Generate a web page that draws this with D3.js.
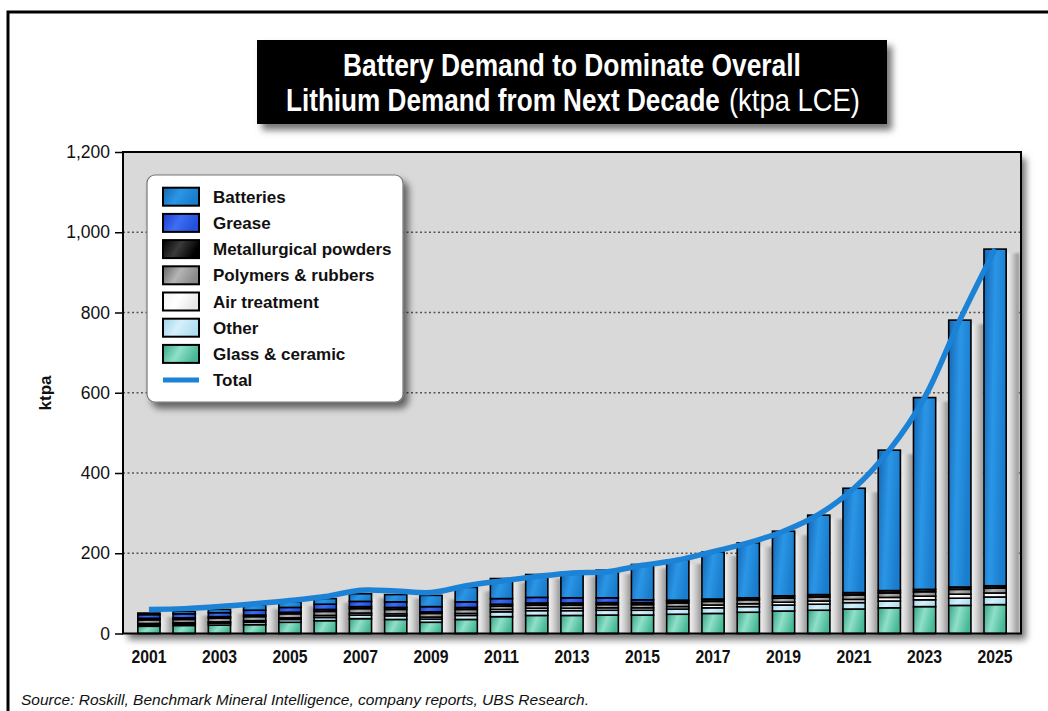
<!DOCTYPE html>
<html>
<head>
<meta charset="utf-8">
<script src="https://cdn.jsdelivr.net/npm/d3@7"></script>
<style>
  body { margin: 0; background: #fff; }
  svg { display: block; font-family: "Liberation Sans", Arial, sans-serif; }
  .tick line { stroke: #000; stroke-width: 1.5px; }
  .domain { display: none; }
  .ylab text { font-family: "Liberation Sans", Arial, sans-serif; font-size: 17.5px; fill: #111; }
  .xlab { font-family: "Liberation Sans", Arial, sans-serif; font-size: 19px; font-weight: bold; fill: #111; }
  .legend text { font-size: 17px; font-weight: bold; fill: #111; }
</style>
</head>
<body>
<div id="chart"></div>
<script>
// categories
var years = [2001, 2002, 2003, 2004, 2005, 2006, 2007, 2008, 2009, 2010, 2011, 2012, 2013,
             2014, 2015, 2016, 2017, 2018, 2019, 2020, 2021, 2022, 2023, 2024, 2025];

// stacked series, ktpa LCE (bottom to top)
var glass      = [18, 20, 21, 22, 28, 32, 37, 35, 28, 35, 42, 45, 45, 46, 46, 48, 50, 53, 56, 58, 61, 64, 67, 70, 72];
var other      = [4, 4, 5, 6, 7, 8, 9, 9, 8, 10, 12, 12, 12, 12, 12, 13, 14, 14, 15, 15, 16, 17, 17, 18, 19];
var air        = [3, 3, 3, 4, 4, 5, 5, 5, 5, 5, 6, 6, 6, 6, 6, 6, 7, 7, 7, 8, 8, 9, 9, 10, 10];
var polymers   = [9, 8, 9, 10, 10, 10, 11, 11, 9, 10, 8, 8, 8, 8, 8, 9, 9, 10, 10, 10, 11, 11, 11, 12, 12];
var metal      = [4, 4, 4, 4, 4, 5, 5, 5, 4, 5, 5, 5, 5, 5, 5, 5, 5, 5, 6, 6, 6, 6, 6, 6, 6];
var grease     = [9, 10, 10, 12, 12, 13, 13, 14, 13, 14, 14, 14, 13, 12, 7, 2, 1, 0, 0, 0, 0, 0, 0, 0, 0];
var batteries  = [4, 6, 8, 13, 14, 14, 19, 18, 28, 36, 50, 57, 63, 69, 88, 100, 117, 137, 161, 198, 260, 350, 478, 665, 839];

// total demand line
var total = [60, 62, 67, 74, 82, 92, 108, 106, 102, 119, 131, 142, 151, 154, 170, 183, 204, 226, 255, 297, 362, 457, 588, 781, 958];

var yTicks = [0, 200, 400, 600, 800, 1000, 1200];
var xLabels = [2001, 2003, 2005, 2007, 2009, 2011, 2013, 2015, 2017, 2019, 2021, 2023, 2025];

var seriesNames = ["Glass & ceramic", "Other", "Air treatment", "Polymers & rubbers",
                   "Metallurgical powders", "Grease", "Batteries"];
var seriesValues = [glass, other, air, polymers, metal, grease, batteries];
var seriesIds = ["glass", "other", "air", "poly", "metal", "grease", "batt"];

var gradStops = {
  batt:   ["#1466b4", "#2b96e6", "#1a7ccc"],
  grease: ["#1838c8", "#3d6ef2", "#2250dc"],
  metal:  ["#000000", "#3a3a3a", "#000000"],
  poly:   ["#646464", "#b4b4b4", "#8a8a8a"],
  air:    ["#f2f2f2", "#ffffff", "#e6e6e6"],
  other:  ["#9fd3ea", "#d6f0fb", "#b2def2"],
  glass:  ["#35a386", "#8fe0c8", "#49b896"]
};

var W = 1048, H = 711;
var plotL = 123, plotR = 1021, plotT = 152, plotB = 633.5;

// table for the stack
var table = years.map(function(yr, i) {
  var row = { year: yr };
  seriesIds.forEach(function(id, k) { row[id] = seriesValues[k][i]; });
  return row;
});

var svg = d3.select("#chart").append("svg").attr("width", W).attr("height", H);
var defs = svg.append("defs");

// squeeze a text horizontally so it spans the given width (title font is condensed)
function fitText(sel, x0, y0, width) {
  var natural = sel.node().getComputedTextLength();
  sel.attr("transform", "translate(" + x0 + "," + y0 + ") scale(" + (width / natural) + ",1)");
}

// soft drop shadow
var f = defs.append("filter").attr("id", "shadow").attr("x", "-10%").attr("y", "-10%")
  .attr("width", "130%").attr("height", "130%");
f.append("feDropShadow").attr("dx", 5).attr("dy", 6).attr("stdDeviation", 3.5)
  .attr("flood-color", "#000").attr("flood-opacity", 0.55);

var blur = defs.append("filter").attr("id", "blur");
blur.append("feGaussianBlur").attr("stdDeviation", 1.2);

Object.keys(gradStops).forEach(function(id) {
  var g = defs.append("linearGradient").attr("id", "g-" + id)
    .attr("x1", 0).attr("y1", 0).attr("x2", 1).attr("y2", 0.3);
  gradStops[id].forEach(function(c, i) {
    g.append("stop").attr("offset", (i / 2 * 100) + "%").attr("stop-color", c);
  });
});

var sg = defs.append("linearGradient").attr("id", "g-gap").attr("x1", 0).attr("x2", 1);
sg.append("stop").attr("offset", "0%").attr("stop-color", "#f6f6f6");
sg.append("stop").attr("offset", "45%").attr("stop-color", "#d2d2d2");
sg.append("stop").attr("offset", "100%").attr("stop-color", "#8e8e8e");

// outer frame
svg.append("path").attr("d", "M8," + H + " V12 H" + W)
  .attr("fill", "none").attr("stroke", "#000").attr("stroke-width", 3);

// title box
svg.append("rect").attr("x", 257).attr("y", 40).attr("width", 630).attr("height", 84)
  .attr("fill", "#000").attr("filter", "url(#shadow)");
var t1 = svg.append("text").attr("fill", "#fff").attr("font-size", 31).attr("font-weight", "bold")
  .text("Battery Demand to Dominate Overall");
fitText(t1, 343, 76, 458);
var t2 = svg.append("text").attr("fill", "#fff").attr("font-size", 31).attr("font-weight", "bold")
  .text("Lithium Demand from Next Decade");
fitText(t2, 286, 111, 434);
var t3 = svg.append("text").attr("fill", "#fff").attr("font-size", 31)
  .text("(ktpa LCE)");
fitText(t3, 729, 111, 131);

// scales
var x = d3.scaleBand().domain(years).range([plotL, plotR]).paddingInner(0.37).paddingOuter(0.42);
var y = d3.scaleLinear().domain([0, 1200]).range([plotB, plotT]);

// plot area
svg.append("rect").attr("x", plotL).attr("y", plotT).attr("width", plotR - plotL).attr("height", plotB - plotT)
  .attr("fill", "#d9d9d9").attr("filter", "url(#shadow)");

// gridlines
svg.append("g").selectAll("line").data(yTicks.slice(1, -1)).join("line")
  .attr("x1", plotL).attr("x2", plotR)
  .attr("y1", function(d) { return y(d); }).attr("y2", function(d) { return y(d); })
  .attr("stroke", "#555").attr("stroke-width", 1.3).attr("stroke-dasharray", "2,2.5");

// shading between bars
var stacked = d3.stack().keys(seriesIds)(table);
var gap = x.step() - x.bandwidth();
svg.append("g").selectAll("rect").data(table).join("rect")
  .attr("x", function(d) { return x(d.year) + x.bandwidth(); })
  .attr("y", function(d, i) { return y(stacked[6][i][1]) + 4; })
  .attr("width", gap)
  .attr("height", function(d, i) { return plotB - y(stacked[6][i][1]) - 4; })
  .attr("fill", "url(#g-gap)").attr("filter", "url(#blur)");

// stacked bars
svg.append("g").selectAll("g").data(stacked).join("g")
  .attr("fill", function(d) { return "url(#g-" + d.key + ")"; })
  .selectAll("rect").data(function(d) { return d.filter(function(s) { return s[1] - s[0] > 0; }); }).join("rect")
  .attr("x", function(d) { return x(d.data.year); })
  .attr("y", function(d) { return y(d[1]); })
  .attr("width", x.bandwidth())
  .attr("height", function(d) { return y(d[0]) - y(d[1]); })
  .attr("stroke", "#000").attr("stroke-width", 1.6);

// total line
var line = d3.line()
  .x(function(d, i) { return x(years[i]) + x.bandwidth() / 2; })
  .y(function(d) { return y(d); })
  .curve(d3.curveCatmullRom.alpha(0.5));
svg.append("path").datum(total).attr("d", line)
  .attr("fill", "none").attr("stroke", "#1b82d6").attr("stroke-width", 5.5)
  .attr("stroke-linejoin", "round");

// plot border
svg.append("rect").attr("x", plotL).attr("y", plotT).attr("width", plotR - plotL).attr("height", plotB - plotT)
  .attr("fill", "none").attr("stroke", "#000").attr("stroke-width", 2);

// y axis
svg.append("g").attr("class", "ylab").attr("transform", "translate(" + plotL + ",0)")
  .call(d3.axisLeft(y).tickValues(yTicks).tickSize(8).tickPadding(5).tickFormat(d3.format(",")));

svg.append("text").attr("transform", "translate(51,393) rotate(-90)")
  .attr("text-anchor", "middle").attr("font-size", 17).attr("font-weight", "bold")
  .attr("fill", "#111").text("ktpa");

// x labels
svg.append("g").selectAll("text").data(xLabels).join("text").attr("class", "xlab")
  .attr("x", function(d) { return x(d) + x.bandwidth() / 2; })
  .attr("y", 663).attr("text-anchor", "middle")
  .attr("textLength", 35).attr("lengthAdjust", "spacingAndGlyphs")
  .text(function(d) { return d; });

// legend
var lg = svg.append("g").attr("class", "legend");
lg.append("rect").attr("x", 147).attr("y", 175).attr("width", 256).attr("height", 227).attr("rx", 8)
  .attr("fill", "#fff").attr("stroke", "#777").attr("stroke-width", 1.2).attr("filter", "url(#shadow)");
var legendItems = seriesIds.slice().reverse().map(function(id, i) {
  return { id: id, name: seriesNames[seriesIds.length - 1 - i] };
});
legendItems.push({ id: "total", name: "Total" });
var item = lg.selectAll("g.item").data(legendItems).join("g").attr("class", "item")
  .attr("transform", function(d, i) { return "translate(163," + (196.7 + i * 26.2) + ")"; });
item.filter(function(d) { return d.id !== "total"; }).append("rect")
  .attr("x", 0).attr("y", -9).attr("width", 36).attr("height", 18)
  .attr("fill", function(d) { return "url(#g-" + d.id + ")"; })
  .attr("stroke", "#000").attr("stroke-width", 2);
item.filter(function(d) { return d.id === "total"; }).append("line")
  .attr("x1", 0).attr("x2", 36).attr("y1", 0).attr("y2", 0)
  .attr("stroke", "#1b82d6").attr("stroke-width", 5);
item.append("text").attr("x", 50).attr("dy", "0.36em").text(function(d) { return d.name; });

// source
svg.append("text").attr("x", 21).attr("y", 705).attr("font-size", 14).attr("font-style", "italic")
  .attr("fill", "#111").attr("textLength", 568).attr("lengthAdjust", "spacingAndGlyphs")
  .text("Source: Roskill, Benchmark Mineral Intelligence, company reports, UBS Research.");
</script>
</body>
</html>
